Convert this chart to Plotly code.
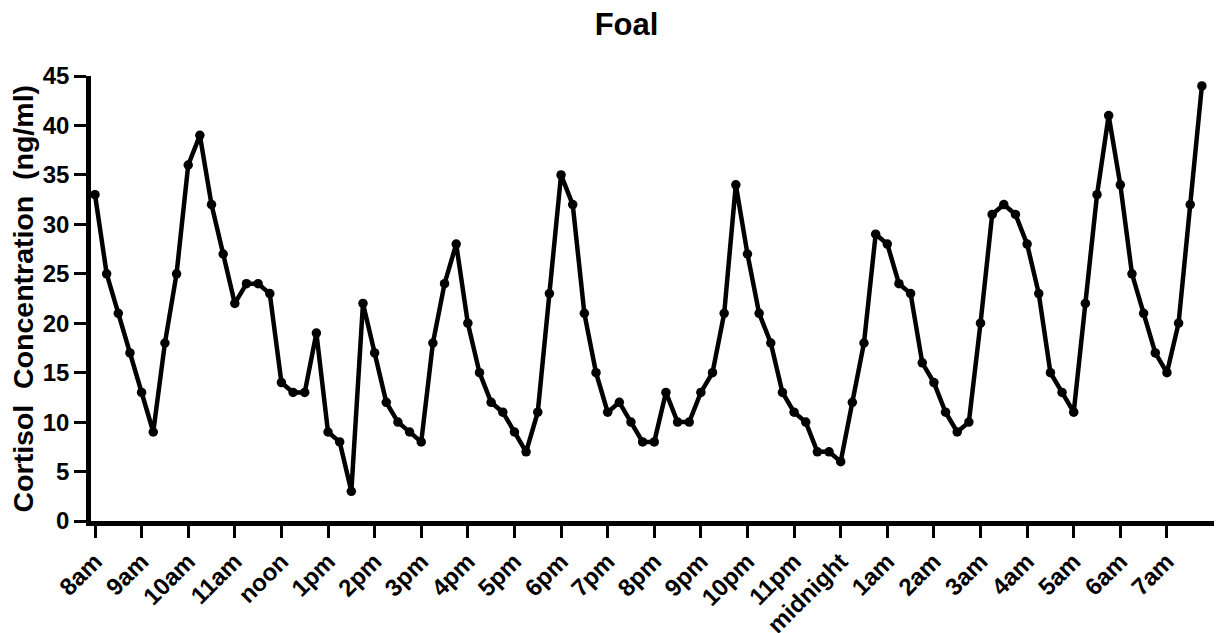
import plotly.graph_objects as go

# Sampling every 15 minutes starting at 8am (index -> hours after 8am)
cortisol = [
    33, 25, 21, 17, 13, 9, 18, 25, 36, 39, 32, 27, 22, 24, 24, 23, 14, 13, 13, 19, 9, 8, 3, 22,
    17, 12, 10, 9, 8, 18, 24, 28, 20, 15, 12, 11, 9, 7, 11, 23, 35, 32, 21, 15, 11, 12, 10, 8,
    8, 13, 10, 10, 13, 15, 21, 34, 27, 21, 18, 13, 11, 10, 7, 7, 6, 12, 18, 29, 28, 24, 23, 16,
    14, 11, 9, 10, 20, 31, 32, 31, 28, 23, 15, 13, 11, 22, 33, 41, 34, 25, 21, 17, 15, 20, 32, 44,
]
hour_labels = ["8am", "9am", "10am", "11am", "noon", "1pm", "2pm", "3pm", "4pm", "5pm",
               "6pm", "7pm", "8pm", "9pm", "10pm", "11pm", "midnight", "1am", "2am", "3am",
               "4am", "5am", "6am", "7am"]
y_ticks = [0, 5, 10, 15, 20, 25, 30, 35, 40, 45]

hours = [i * 0.25 for i in range(len(cortisol))]

FONT = "Liberation Sans, Arial, Helvetica, sans-serif"

fig = go.Figure(go.Scatter(
    x=hours, y=cortisol, mode="lines+markers",
    line=dict(color="black", width=4.5),
    marker=dict(color="black", size=9.5),
    showlegend=False,
    cliponaxis=False,
))

fig.update_layout(
    width=1219, height=633,
    margin=dict(l=91, r=5, t=76, b=112, autoexpand=False),
    paper_bgcolor="white", plot_bgcolor="white",
    title=dict(text="Foal", x=0.514, xref="container", xanchor="center",
               y=0.962, yref="container", yanchor="middle",
               font=dict(family=FONT, size=31, color="black", weight="bold")),
    xaxis=dict(
        range=[-0.086, 24.01], automargin=False,
        tickmode="array", tickvals=list(range(len(hour_labels))), ticktext=hour_labels,
        tickangle=-45,
        tickfont=dict(family=FONT, size=24, color="black", weight="bold"),
        showline=True, linecolor="black", linewidth=4.5,
        ticks="outside", ticklen=12, tickwidth=3, tickcolor="black",
        showgrid=False, zeroline=False,
    ),
    yaxis=dict(
        range=[0, 45], automargin=False,
        tickmode="array", tickvals=y_ticks,
        tickfont=dict(family=FONT, size=24, color="black", weight="bold"),
        showline=True, linecolor="black", linewidth=4.5,
        ticks="outside", ticklen=12, tickwidth=3, tickcolor="black",
        showgrid=False, zeroline=False,
    ),
    annotations=[dict(
        text="Cortisol\u00a0\u00a0Concentration\u00a0\u00a0(ng/ml)",
        textangle=-90, x=-0.0606, y=0.5, xref="paper", yref="paper",
        xanchor="center", yanchor="middle", showarrow=False,
        font=dict(family=FONT, size=28.5, color="black", weight="bold"),
    )],
)

fig.write_html("out.html",
               config={"displayModeBar": False},
               post_script="document.body.style.margin='0';document.body.style.overflow='hidden';")
